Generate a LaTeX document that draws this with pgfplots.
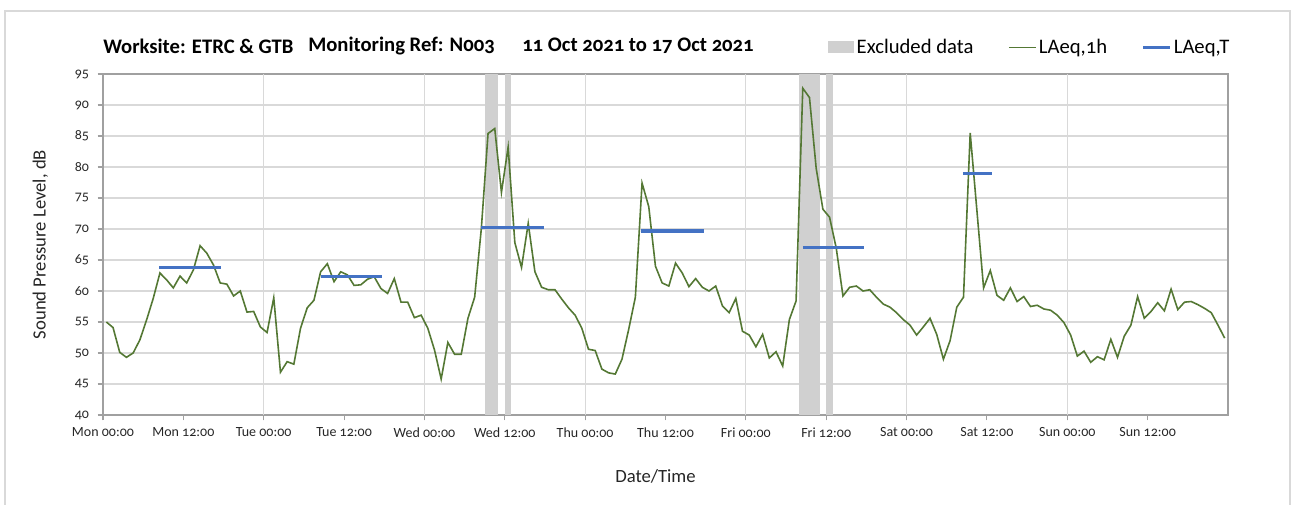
\documentclass[border=0pt]{standalone}
\usepackage{fontspec}
\setmainfont{Carlito}[Numbers=OldStyle]
\usepackage{pgfplots}
\pgfplotsset{compat=1.18}
\usepackage{pgfplotstable}

\definecolor{lgreen}{RGB}{84,120,52}
\definecolor{lblue}{RGB}{68,114,196}
\definecolor{band}{RGB}{208,208,208}
\definecolor{gridc}{RGB}{217,217,217}
\definecolor{axc}{RGB}{160,160,160}

% hourly LAeq,1h, Mon 00:00 .. Sun 23:00
\pgfplotstableread[row sep=\\]{
v\\
55.0\\ 54.1\\ 50.1\\ 49.3\\ 50.0\\ 52.1\\ 55.3\\ 58.8\\ 62.9\\ 61.8\\ 60.5\\ 62.4\\
61.3\\ 63.4\\ 67.3\\ 66.1\\ 64.2\\ 61.3\\ 61.1\\ 59.2\\ 60.0\\ 56.6\\ 56.7\\ 54.2\\
53.3\\ 58.9\\ 46.9\\ 48.6\\ 48.2\\ 54.0\\ 57.3\\ 58.5\\ 63.1\\ 64.4\\ 61.5\\ 63.1\\
62.6\\ 60.9\\ 61.0\\ 61.9\\ 62.3\\ 60.4\\ 59.6\\ 62.0\\ 58.2\\ 58.2\\ 55.7\\ 56.1\\
54.0\\ 50.5\\ 45.8\\ 51.7\\ 49.8\\ 49.8\\ 55.6\\ 59.0\\ 70.1\\ 85.4\\ 86.2\\ 75.9\\
83.2\\ 67.8\\ 63.8\\ 70.9\\ 63.1\\ 60.6\\ 60.2\\ 60.2\\ 58.7\\ 57.3\\ 56.1\\ 54.0\\
50.6\\ 50.4\\ 47.4\\ 46.8\\ 46.6\\ 49.0\\ 53.8\\ 59.0\\ 77.4\\ 73.6\\ 64.0\\ 61.3\\
60.8\\ 64.5\\ 62.9\\ 60.7\\ 62.0\\ 60.6\\ 60.0\\ 60.8\\ 57.6\\ 56.5\\ 58.8\\ 53.5\\
52.9\\ 51.0\\ 53.0\\ 49.2\\ 50.2\\ 47.9\\ 55.4\\ 58.4\\ 92.7\\ 91.2\\ 79.8\\ 73.2\\
71.9\\ 66.9\\ 59.2\\ 60.6\\ 60.8\\ 60.0\\ 60.2\\ 59.0\\ 57.9\\ 57.4\\ 56.5\\ 55.4\\
54.5\\ 52.9\\ 54.2\\ 55.6\\ 53.0\\ 49.0\\ 52.0\\ 57.4\\ 59.0\\ 85.5\\ 73.0\\ 60.5\\
63.3\\ 59.3\\ 58.5\\ 60.5\\ 58.3\\ 59.1\\ 57.5\\ 57.7\\ 57.1\\ 56.9\\ 56.1\\ 54.9\\
52.9\\ 49.5\\ 50.3\\ 48.5\\ 49.4\\ 48.9\\ 52.2\\ 49.3\\ 52.7\\ 54.5\\ 59.1\\ 55.6\\
56.7\\ 58.1\\ 56.8\\ 60.3\\ 57.0\\ 58.2\\ 58.3\\ 57.8\\ 57.2\\ 56.5\\ 54.5\\ 52.4\\
}\laeq

\begin{document}
\begin{tikzpicture}
\begin{axis}[
    scale only axis,
    width=843.75pt, height=255.75pt,
    xmin=0, xmax=168, ymin=40, ymax=95,
    clip mode=individual,
    xtick={0,12,...,156},
    xticklabels={Mon 00:00, Mon 12:00, Tue 00:00, Tue 12:00, Wed 00:00, Wed 12:00,
        Thu 00:00, Thu 12:00, Fri 00:00, Fri 12:00, Sat 00:00, Sat 12:00,
        Sun 00:00, Sun 12:00},
    ytick={40,45,...,95},
    extra x ticks={24,48,...,144},
    extra x tick labels={},
    extra x tick style={grid=major},
    ymajorgrids,
    grid style={gridc, line width=0.9pt},
    axis line style={axc, line width=0.9pt},
    tick align=outside,
    major tick length=4pt,
    tick style={axc, line width=0.8pt},
    xtick pos=left, ytick pos=left,
    /pgf/number format/assume math mode=true,
    ticklabel style={font=\fontsize{10.5}{12}\selectfont, text=black!85},
    xticklabel style={yshift=-2pt},
    yticklabel style={xshift=-3pt},
    xlabel={Date/Time},
    ylabel={Sound Pressure Level, dB},
    label style={font=\fontsize{14}{17}\selectfont, text=black!85},
    xlabel style={at={([xshift=-7.5pt, yshift=-45.75pt]rel axis cs:0.5,0)}, anchor=center},
    ylabel style={at={([xshift=-47pt]rel axis cs:0,0.5)}, anchor=center},
    legend columns=3,
    legend style={draw=none, fill=none,
        at={(axis description cs:1.0075,1.078)}, anchor=east,
        font=\fontsize{15.5}{18}\selectfont,
        /tikz/every even column/.append style={column sep=24pt}},
]
\coordinate (ll) at (rel axis cs:0,0);
\coordinate (ur) at (rel axis cs:1,1);

% excluded periods
\addplot[fill=band, draw=none,
    legend image code/.code={\fill[band] (0pt,-4.5pt) rectangle (19.5pt,4.5pt);}]
    coordinates {(57,40) (57,95) (59,95) (59,40)} -- cycle;
\addlegendentry{Excluded data}
\addplot[fill=band, draw=none, forget plot]
    coordinates {(60,40) (60,95) (61,95) (61,40)} -- cycle;
\addplot[fill=band, draw=none, forget plot]
    coordinates {(104,40) (104,95) (107,95) (107,40)} -- cycle;
\addplot[fill=band, draw=none, forget plot]
    coordinates {(108,40) (108,95) (109,95) (109,40)} -- cycle;

\addplot[lgreen, line width=1.2pt,
    legend image code/.code={\draw[lgreen, line width=1.1pt] (0pt,0pt) -- (20pt,0pt);}]
    table[x expr=\coordindex+0.5, y=v] {\laeq};
\addlegendentry{LAeq,1h}

\addplot[lblue, line width=2.5pt, unbounded coords=jump,
    legend image code/.code={\draw[lblue, line width=2pt] (0pt,0pt) -- (20pt,0pt);}]
    coordinates {
    (8.4,63.8) (17.6,63.8) (nan,nan)
    (32.5,62.3) (41.7,62.3) (nan,nan)
    (56.5,70.2) (65.8,70.2) (nan,nan)
    (80.4,69.7) (89.8,69.7) (nan,nan)
    (104.5,67.0) (113.7,67.0) (nan,nan)
    (128.4,78.9) (132.7,78.9)
    };
\addlegendentry{LAeq,T}

\node[anchor=west, inner sep=0pt, font=\bfseries\fontsize{15.5}{18}\selectfont]
    at ([yshift=21pt]rel axis cs:0,1) {Worksite: ETRC \& GTB};
\node[anchor=west, inner sep=0pt, font=\bfseries\fontsize{15.5}{18}\selectfont]
    at ([xshift=153.75pt, yshift=21pt]rel axis cs:0,1) {Monitoring Ref: N003};
\node[anchor=west, inner sep=0pt, font=\bfseries\fontsize{15.5}{18}\selectfont]
    at ([xshift=314.25pt, yshift=21pt]rel axis cs:0,1) {11 Oct 2021 to 17 Oct 2021};
\end{axis}
\draw[gray!30, line width=0.8pt] ([xshift=-73.5pt, yshift=-80pt]ll)
    rectangle ([xshift=46.5pt, yshift=47.25pt]ur);
\pgfresetboundingbox
\path[use as bounding box] ([xshift=-77.25pt, yshift=-67.5pt]ll)
    rectangle ([xshift=50.25pt, yshift=55.5pt]ur);
\end{tikzpicture}
\end{document}
